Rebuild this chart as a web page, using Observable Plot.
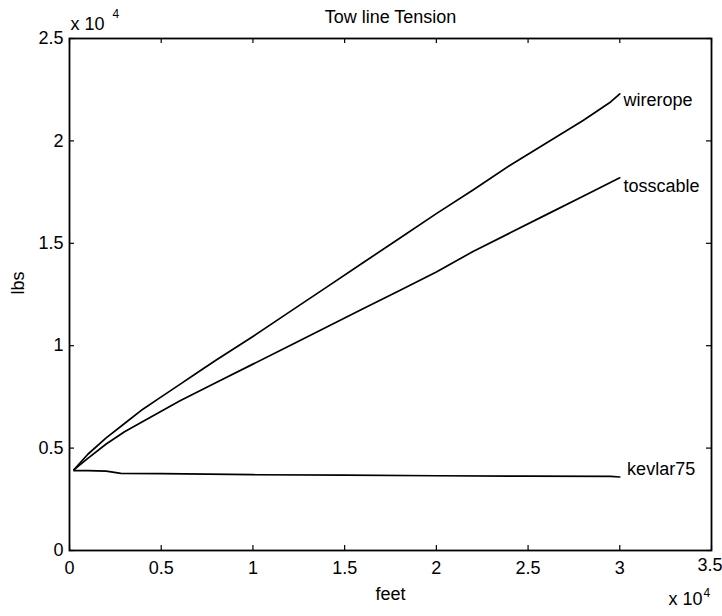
<!DOCTYPE html>
<html>
<head>
<meta charset="utf-8">
<script src="https://cdn.jsdelivr.net/npm/d3@7"></script>
<script src="https://cdn.jsdelivr.net/npm/@observablehq/plot@0.6"></script>
<style>
  html, body { margin: 0; padding: 0; background: #fff; }
</style>
</head>
<body>
<div id="chart"></div>
<script>
// ---- data (feet, lbs) ----
const wireFeet = [250, 1000, 2000, 3000, 4000, 5000, 6000, 7000, 8000, 10000, 12000, 14000, 16000, 18000, 20000, 22000, 24000, 26000, 28000, 29500, 30000];
const wireLbs  = [3950, 4700, 5500, 6200, 6900, 7500, 8100, 8700, 9300, 10450, 11650, 12850, 14050, 15250, 16450, 17600, 18800, 19900, 21000, 21900, 22300];

const tossFeet = [250, 1000, 2000, 3000, 4000, 5000, 6000, 7000, 8000, 10000, 12000, 14000, 16000, 18000, 20000, 22000, 24000, 26000, 28000, 30000];
const tossLbs  = [3950, 4500, 5200, 5800, 6300, 6800, 7300, 7750, 8200, 9100, 10000, 10900, 11800, 12700, 13600, 14600, 15500, 16400, 17300, 18200];

const kevFeet = [250, 1000, 2000, 2800, 5000, 10000, 15000, 20000, 25000, 29500, 30000];
const kevLbs  = [3900, 3900, 3880, 3770, 3750, 3700, 3680, 3650, 3630, 3620, 3590];

const seriesNames = ["wirerope", "tosscable", "kevlar75"];
const labelFeet = [30200, 30200, 30400];
const labelLbs  = [21970, 17770, 3950];

const xTicks = [0, 5000, 10000, 15000, 20000, 25000, 30000, 35000];
const yTicks = [0, 5000, 10000, 15000, 20000, 25000];

// ---- tidy table ----
const rows = [];
[[wireFeet, wireLbs], [tossFeet, tossLbs], [kevFeet, kevLbs]].forEach(([fx, ly], i) => {
  fx.forEach((f, j) => rows.push({series: seriesNames[i], feet: f, lbs: ly[j]}));
});
const labels = seriesNames.map((s, i) => ({name: s, feet: labelFeet[i], lbs: labelLbs[i]}));

const W = 722, H = 616;
const mL = 69, mR = 11, mT = 38, mB = 66;
const innerW = W - mL - mR, innerH = H - mT - mB;
const tickLen = 5;
const fmt = d => String(d / 1e4);
const FS = 18;
const lastX = xTicks[xTicks.length - 1];

const chart = Plot.plot({
  width: W, height: H,
  marginLeft: mL, marginRight: mR, marginTop: mT, marginBottom: mB,
  style: {fontFamily: "'Liberation Sans', Arial, Helvetica, sans-serif", fontSize: FS + "px", background: "white", color: "black"},
  x: {domain: [0, 35000], ticks: xTicks, tickFormat: fmt, tickSize: 0, tickPadding: 11, label: null},
  y: {domain: [0, 25000], ticks: yTicks, tickFormat: fmt, tickSize: 0, tickPadding: 6, label: null},
  marks: [
    // inward ticks on all four sides
    Plot.tickX(xTicks, {x: d => d, insetTop: innerH - tickLen, stroke: "black", strokeWidth: 1.2}),
    Plot.tickX(xTicks, {x: d => d, insetBottom: innerH - tickLen, stroke: "black", strokeWidth: 1.2}),
    Plot.tickY(yTicks, {y: d => d, insetRight: innerW - tickLen, stroke: "black", strokeWidth: 1.2}),
    Plot.tickY(yTicks, {y: d => d, insetLeft: innerW - tickLen, stroke: "black", strokeWidth: 1.2}),
    Plot.frame({stroke: "black", strokeWidth: 1.8}),
    Plot.axisX(xTicks.slice(0, -1), {tickFormat: fmt, tickSize: 0, tickPadding: 11, fontSize: FS, label: null}),
    Plot.text([lastX], {x: d => d, text: fmt, frameAnchor: "bottom", textAnchor: "end", dx: 11, dy: 20, fontSize: FS, fill: "black"}),
    Plot.axisY({ticks: yTicks, tickFormat: fmt, tickSize: 0, tickPadding: 6, fontSize: FS, label: null}),
    Plot.line(rows, {x: "feet", y: "lbs", z: "series", stroke: "black", strokeWidth: 1.7, curve: "linear"}),
    Plot.text(labels, {x: "feet", y: "lbs", text: "name", textAnchor: "start", fontSize: FS, fill: "black"}),
    // title & axis labels
    Plot.text(["Tow line Tension"], {frameAnchor: "top", dy: -28, fontSize: FS, fill: "black"}),
    Plot.text(["feet"], {frameAnchor: "bottom", dy: 49, fontSize: FS, fill: "black"}),
    Plot.text(["lbs"], {frameAnchor: "left", dx: -51, rotate: -90, fontSize: FS, fill: "black"}),
    // exponent annotations
    Plot.text(["x 10"], {frameAnchor: "top-left", textAnchor: "start", dx: 1, dy: -21, fontSize: FS, fill: "black"}),
    Plot.text(["4"], {frameAnchor: "top-left", textAnchor: "start", dx: 43, dy: -29, fontSize: 12, fill: "black"}),
    Plot.text(["x 10"], {frameAnchor: "bottom-right", textAnchor: "end", dx: -9, dy: 54, fontSize: FS, fill: "black"}),
    Plot.text(["4"], {frameAnchor: "bottom-right", textAnchor: "start", dx: -8, dy: 46, fontSize: 12, fill: "black"})
  ]
});
document.getElementById("chart").appendChild(chart);
</script>
</body>
</html>
